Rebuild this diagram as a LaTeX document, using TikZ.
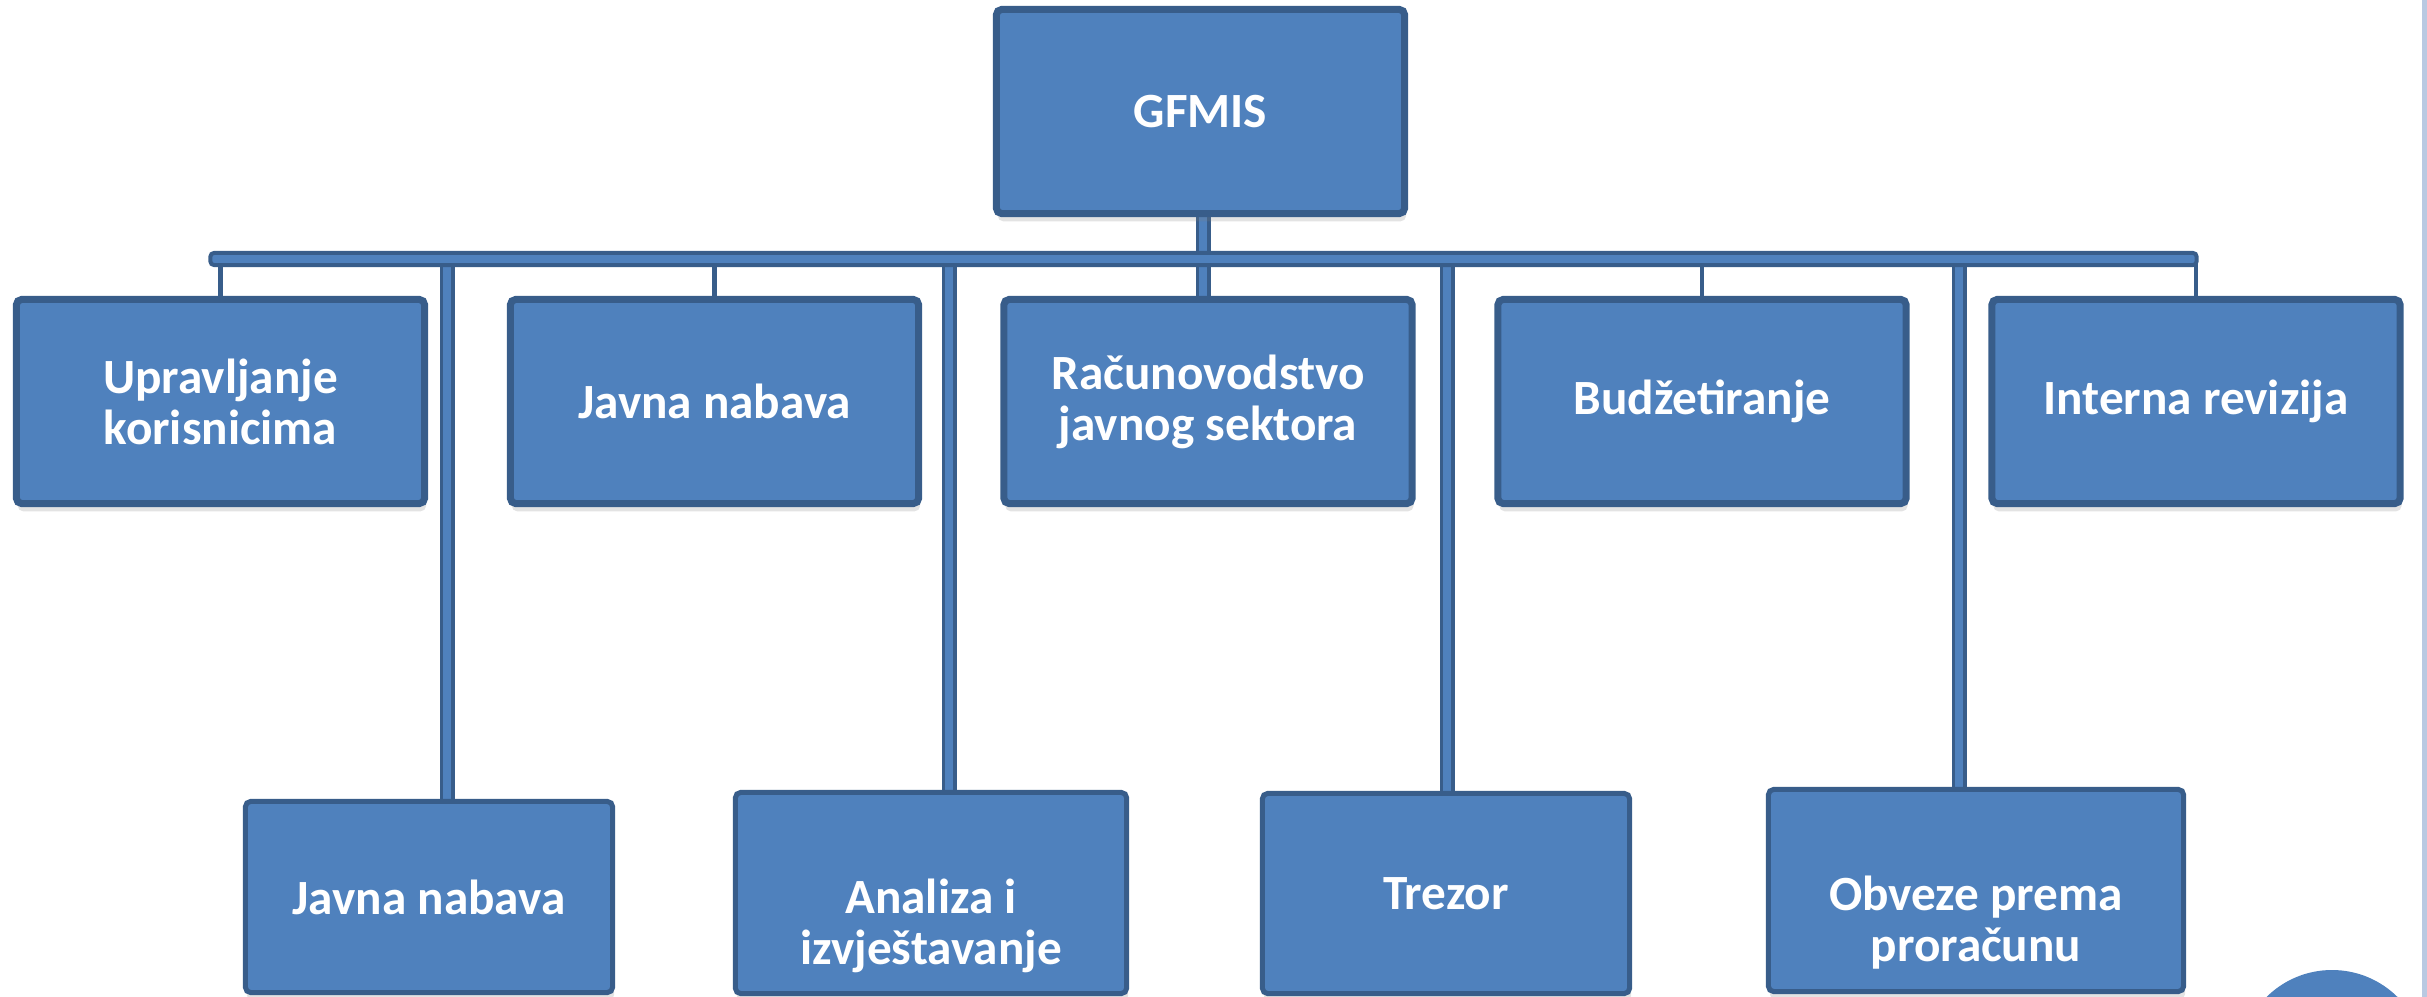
\documentclass[tikz,border=0pt]{standalone}
\usepackage{fontspec}
\setmainfont{Carlito}
\usetikzlibrary{backgrounds,shadows}
\definecolor{boxfill}{HTML}{4F81BD}
\definecolor{boxline}{HTML}{385D8A}
\definecolor{edgeline}{HTML}{B9C9E2}
\newcommand{\lowblock}[1]{\raisebox{-0.48cm}[0pt][0pt]{\begin{tabular}{@{}c@{}}#1\end{tabular}}}
\begin{document}
\begin{tikzpicture}[x=0.01cm,y=-0.01cm,
  boxbase/.style={rectangle, rounded corners=1.5pt, fill=boxfill, draw=boxline,
    text=white, font=\bfseries\fontsize{14}{14.5}\selectfont, align=center,
    inner sep=0pt, outer sep=0pt,
    drop shadow={opacity=0.22, shadow xshift=0.4pt, shadow yshift=-2.2pt}},
  topbox/.style={boxbase, line width=0.07cm, minimum width=4.08cm, minimum height=2.04cm},
  lowbox/.style={boxbase, line width=0.05cm},
  barstyle/.style={rectangle, rounded corners=1pt, fill=boxfill, draw=boxline,
    line width=0.04cm, inner sep=0pt, outer sep=0pt, minimum width=19.85cm, minimum height=0.12cm},
  thinconn/.style={draw=boxline, line width=0.045cm},
  thickconn/.style={draw=boxline, line width=0.035cm, double=boxfill, double distance=0.08cm}
]
\useasboundingbox (0,0) rectangle (2427,997);
\clip (0,0) rectangle (2427,997);

% slide edge and corner circle
\fill[edgeline] (2422,0) rectangle (2427,997);
\fill[boxfill] (2332,1063) circle (93);

% boxes
\node[topbox] (gfmis) at (1200.5,111.5) {GFMIS};
\node[barstyle] (bar) at (1203.5,259) {};

\node[topbox] (r1) at (220.5,401.5) {Upravljanje\\korisnicima};
\node[topbox] (r2) at (714.5,401.5) {Javna nabava};
\node[topbox] (r3) at (1208,401.5) {Računovodstvo\\javnog sektora};
\node[topbox] (r4) at (1702,401.5) {Budžetiranje};
\node[topbox] (r5) at (2196,401.5) {Interna revizija};

\node[lowbox, minimum width=3.67cm, minimum height=1.91cm] (b1) at (429,897) {Javna nabava};
\node[lowbox, minimum width=3.91cm, minimum height=2.01cm] (b2) at (931,893) {\lowblock{Analiza i\\izvještavanje}};
\node[lowbox, minimum width=3.67cm, minimum height=2.00cm] (b3) at (1446,893.5) {Trezor};
\node[lowbox, minimum width=4.15cm, minimum height=2.02cm] (b4) at (1976,890.5) {\lowblock{Obveze prema\\proračunu}};

% connectors
\coordinate (s0) at (1203,150);
\coordinate (t1) at (447,259);
\coordinate (t2) at (949,259);
\coordinate (t3) at (1447,259);
\coordinate (t4) at (1959,259);
\begin{scope}[on background layer]
  \draw[thickconn] (s0) -- (s0 |- r3.center);
  \draw[thinconn] (bar.center -| r1.center) -- (r1.center);
  \draw[thinconn] (bar.center -| r2.center) -- (r2.center);
  \draw[thinconn] (bar.center -| r4.center) -- (r4.center);
  \draw[thinconn] (bar.center -| r5.center) -- (r5.center);
  \draw[thickconn] (t1) -- (t1 |- b1.center);
  \draw[thickconn] (t2) -- (t2 |- b2.center);
  \draw[thickconn] (t3) -- (t3 |- b3.center);
  \draw[thickconn] (t4) -- (t4 |- b4.center);
\end{scope}
\end{tikzpicture}
\end{document}
